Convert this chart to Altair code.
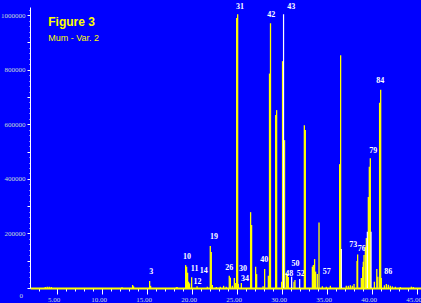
import altair as alt
import pandas as pd

# Yellow trace (retention time in min, intensity)
yellow_time = [3.70, 3.92, 4.14, 4.37, 12.22, 13.40, 13.51, 15.29, 15.40, 18.26, 18.37,
               19.29, 19.40, 19.51, 19.62, 19.73, 19.96, 20.56, 21.70,
               22.03, 22.14, 22.26, 22.70, 23.14, 23.51, 23.80,
               24.14, 24.26, 24.48, 24.70, 24.81, 24.96, 25.07, 25.15, 25.48,
               26.51, 26.62, 27.07, 27.18, 27.89, 28.07, 28.48, 28.61, 28.72,
               29.29, 29.40, 29.96, 30.06, 30.28, 30.48, 30.59, 30.70, 31.33, 31.44,
               32.48, 32.59, 33.37, 33.48, 33.62, 33.73, 33.92, 34.11,
               34.48, 34.92, 35.37, 36.40, 36.51,
               37.14, 37.37, 37.59, 37.81, 38.00, 38.33, 38.40,
               38.81, 38.96, 39.03, 39.11, 39.26, 39.37, 39.59, 39.70, 39.81,
               40.26, 40.53, 40.64, 40.84, 40.96, 41.03,
               41.37, 41.59, 41.81, 42.03, 42.26, 42.59, 43.14, 44.37, 44.59]
yellow_height = [4000, 4500, 4500, 4000, 3000, 11000, 6000, 25600, 8000, 3000, 3000,
                 84000, 78000, 56000, 23000, 17000, 39000, 6000, 5000,
                 154000, 132000, 11000, 4000, 5000, 8000, 5000,
                 45000, 38000, 8000, 37000, 18000, 990000, 1003000, 15000, 18000,
                 278000, 231000, 78000, 51000, 6000, 70000, 45000, 786000, 970000,
                 634000, 652000, 23000, 831500, 542000, 55000, 50000, 40000, 23000, 29000,
                 597000, 579000, 78000, 84000, 106000, 60000, 51000, 240000,
                 6000, 5000, 8000, 454000, 853000,
                 8000, 8000, 10000, 8000, 15000, 99000, 123000,
                 37000, 77000, 96000, 121000, 151000, 183000, 334000, 444000, 476000,
                 23000, 70000, 41000, 679000, 727000, 37000,
                 10000, 15000, 12000, 8000, 6000, 5000, 4000, 5000, 4000]

# White trace
white_time = [30.17, 31.07, 31.96, 36.59, 39.48, 39.89]
white_height = [1003600, 41000, 33000, 143000, 206000, 206000]

# Peak numbers
label_text = ["3", "10", "11", "12", "14", "19", "26", "30", "31", "34", "40", "42", "43",
              "48", "50", "52", "57", "73", "76", "79", "84", "86"]
label_time = [15.48, 19.44, 20.29, 20.62, 21.29, 22.44, 24.14, 25.67, 25.33, 25.89, 28.03,
              28.81, 31.03, 30.81, 31.51, 32.09, 34.96, 37.92, 38.87, 40.14, 40.92, 41.81]
label_height = [58600, 113600, 70700, 22000, 62300, 186800, 73300, 69600, 1029300, 33000,
                102600, 1000000, 1029300, 51300, 87900, 51300, 58600, 157500, 142900,
                501800, 758200, 58600]

# Titles
title_text = ["Figure 3", "Mum - Var. 2"]
title_time = [4.03, 4.03]
title_height = [959700, 906600]

x_ticks = [3] + list(range(5, 46))
y_ticks = list(range(0, 1020001, 20000))

LABEL_COL = "#c4dcd4"
FONT = "Liberation Sans Narrow"

xscale = alt.Scale(domain=[2.0, 45.44], nice=False, zero=False)
yscale = alt.Scale(domain=[0, 1030000], nice=False)

xaxis = alt.Axis(
    title=None, values=x_ticks, grid=False,
    labelExpr="datum.value % 5 === 0 ? format(datum.value, '.2f') : ''",
    tickSize={"condition": {"test": "datum.value % 5 === 0", "value": 6}, "value": 3},
    tickColor="white", tickWidth=1,
    domainColor="#ffff00", domainWidth=2,
    labelColor=LABEL_COL, labelFont=FONT, labelFontSize=7, labelPadding=1,
    labelOffset=-3.5, labelFlush=False, labelOverlap=False,
)
yaxis = alt.Axis(
    title=None, values=y_ticks, grid=False,
    labelExpr="datum.value % 200000 === 0 && datum.value > 0 ? format(datum.value, 'd') : ''",
    tickSize={"condition": {"test": "datum.value % 100000 === 0", "value": 3}, "value": 1},
    tickColor="white", tickWidth=1,
    domainColor="white", domainWidth=1,
    labelColor=LABEL_COL, labelFont=FONT, labelFontSize=7, labelPadding=2,
    labelFlush=False, labelOverlap=False,
)

df_y = pd.DataFrame({"t": yellow_time, "h": yellow_height})
df_w = pd.DataFrame({"t": white_time, "h": white_height})
df_l = pd.DataFrame({"t": label_time, "h": label_height, "s": label_text})
df_t = pd.DataFrame({"t": title_time, "h": title_height, "s": title_text})
df_0 = pd.DataFrame({"t": [1.03], "h": [-29300], "s": ["0"]})

X = alt.X("t:Q", scale=xscale, axis=xaxis)
Y = alt.Y("h:Q", scale=yscale, axis=yaxis)

yel = alt.Chart(df_y).mark_rule(color="#ffff00", strokeWidth=1.3).encode(
    x=X, y=Y, y2=alt.datum(0))
wht = alt.Chart(df_w).mark_rule(color="#ffffff", strokeWidth=1.2).encode(
    x=X, y=Y, y2=alt.datum(0))
labels = alt.Chart(df_l).mark_text(
    color="white", font=FONT, fontSize=8, fontWeight="bold",
    align="center", baseline="middle").encode(x=X, y=Y, text="s:N")
fig = alt.Chart(df_t.iloc[[0]]).mark_text(
    color="#ffff00", font="Liberation Sans", fontSize=12, fontWeight="bold",
    align="left", baseline="alphabetic").encode(x=X, y=Y, text="s:N")
sub = alt.Chart(df_t.iloc[[1]]).mark_text(
    color="#ffff00", font="Liberation Sans", fontSize=9,
    align="left", baseline="alphabetic").encode(x=X, y=Y, text="s:N")
zero = alt.Chart(df_0).mark_text(
    color=LABEL_COL, font=FONT, fontSize=7, align="center", baseline="middle"
).encode(x=X, y=Y, text="s:N")

chart = alt.layer(yel, wht, labels, fig, sub, zero).properties(
    width=391, height=281,
    background="#0000ff",
    padding={"left": 30, "top": 7, "right": 0, "bottom": 15},
    autosize=alt.AutoSizeParams(type="none"),
).configure_view(stroke=None)

chart.save("out.html", embed_options={"renderer": "svg", "actions": False})
